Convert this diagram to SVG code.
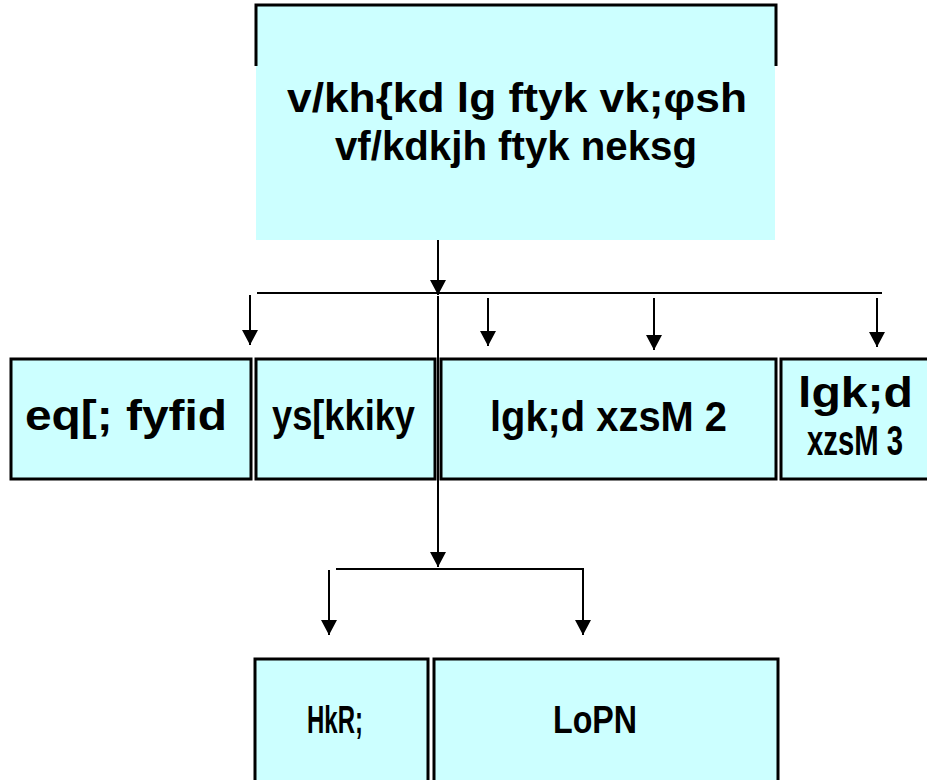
<svg xmlns="http://www.w3.org/2000/svg" width="927" height="780" viewBox="0 0 927 780">
<style>
.box{fill:#CCFFFF;stroke:#000;stroke-width:3}
.fill{fill:#CCFFFF}
.edge{fill:none;stroke:#000;stroke-width:3}
.t{font-family:"Liberation Sans Narrow","Liberation Sans",Arial,sans-serif;font-weight:bold;fill:#000}
.c{stroke:#000;stroke-width:2;fill:none}
</style>
<defs>
<marker id="ah" viewBox="0 0 15 16" refX="15" refY="8" markerWidth="15" markerHeight="16" markerUnits="userSpaceOnUse" orient="auto">
<path d="M0,0 L15,8 L0,16 z" fill="#000"/>
</marker>
</defs>
<rect width="927" height="780" fill="#fff"/>
<g id="node-top">
<rect class="fill" x="256" y="5" width="519" height="235"/>
<path class="edge" d="M256,66 V5 H776 V66"/>
<text class="t" x="287" y="112" font-size="40" textLength="460" lengthAdjust="spacingAndGlyphs">v/kh{kd lg ftyk vk;φsh</text>
<text class="t" x="335" y="160" font-size="40" textLength="362" lengthAdjust="spacingAndGlyphs">vf/kdkjh ftyk neksg</text>
</g>
<g id="node-1">
<rect class="box" x="11" y="359" width="240" height="120"/>
<text class="t" x="25" y="430" font-size="42" textLength="202" lengthAdjust="spacingAndGlyphs">eq[; fyfid</text>
</g>
<g id="node-2">
<rect class="box" x="256" y="359" width="179" height="120"/>
<text class="t" x="272" y="430" font-size="42" textLength="143" lengthAdjust="spacingAndGlyphs">ys[kkiky</text>
</g>
<g id="node-3">
<rect class="box" x="441" y="359" width="335" height="120"/>
<text class="t" x="490" y="431" font-size="42" textLength="237" lengthAdjust="spacingAndGlyphs">lgk;d xzsM 2</text>
</g>
<g id="node-4">
<rect class="box" x="781" y="359" width="160" height="120"/>
<text class="t" x="798" y="407" font-size="42" textLength="115" lengthAdjust="spacingAndGlyphs">lgk;d</text>
<text class="t" x="807" y="455" font-size="42" textLength="96" lengthAdjust="spacingAndGlyphs">xzsM 3</text>
</g>
<g id="node-5">
<rect class="box" x="255" y="659" width="173" height="140"/>
<text class="t" x="307" y="733" font-size="39" textLength="56" lengthAdjust="spacingAndGlyphs">HkR;</text>
</g>
<g id="node-6">
<rect class="box" x="434" y="659" width="344" height="140"/>
<text class="t" x="553" y="733" font-size="39" textLength="84" lengthAdjust="spacingAndGlyphs">LoPN</text>
</g>
<g id="connectors">
<line class="c" x1="438" y1="240" x2="438" y2="295" marker-end="url(#ah)"/>
<line class="c" x1="257" y1="293" x2="882" y2="293"/>
<line class="c" x1="438" y1="296" x2="438" y2="567" marker-end="url(#ah)"/>
<line class="c" x1="250" y1="295" x2="250" y2="345" marker-end="url(#ah)"/>
<line class="c" x1="488" y1="298" x2="488" y2="346" marker-end="url(#ah)"/>
<line class="c" x1="654" y1="298" x2="654" y2="350" marker-end="url(#ah)"/>
<line class="c" x1="877" y1="298" x2="877" y2="347" marker-end="url(#ah)"/>
<polyline class="c" points="336,569 583,569 583,635" marker-end="url(#ah)"/>
<line class="c" x1="329" y1="570" x2="329" y2="635" marker-end="url(#ah)"/>
</g>
</svg>
